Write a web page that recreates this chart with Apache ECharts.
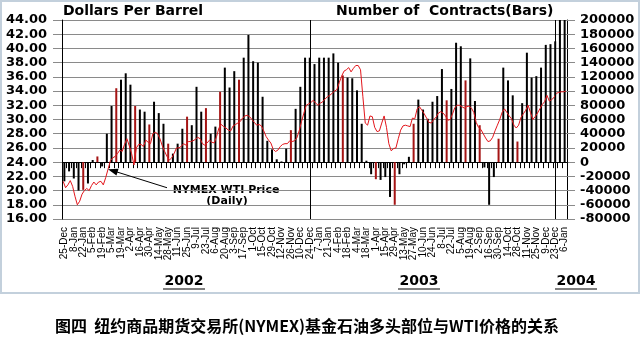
<!DOCTYPE html>
<html>
<head>
<meta charset="utf-8">
<script src="https://cdn.jsdelivr.net/npm/echarts@6/dist/echarts.min.js"></script>
<style>
  html, body { margin: 0; padding: 0; background: #ffffff; }
  #chart { width: 640px; height: 346px; }
</style>
</head>
<body>
<div id="chart"></div>
<script>
// Non-commercial (fund) net long positions in NYMEX crude oil, contracts,
// one value per weekly report, 25-Dec-2001 through 6-Jan-2004.
const netLong = [
  -27000, -13000, -23000, -40000, -39000, -30000, 3000, 8000, -6000, 40000,
  79000, 104000, 116000, 125000, 109000, 79000, 74000, 71000, 53000, 85000,
  69000, 54000, 26000, 12000, 26000, 47000, 64000, 52000, 106000, 71000,
  76000, 40000, 50000, 99000, 133000, 105000, 128000, 116000, 147000, 179000,
  142000, 140000, 92000, 30000, 18000, 4000, 1000, 19000, 45000, 75000,
  106000, 147000, 147000, 138000, 147000, 147000, 147000, 153000, 140000, 122000,
  119000, 118000, 101000, 54000, 2000, -17000, -24000, -25000, -21000, -49000,
  -60000, -17000, -3000, 7500, 54000, 88000, 74000, 61000, 85000, 93000,
  131000, 87000, 103000, 168000, 163000, 115000, 146000, 86000, 52000, -7500,
  -60000, -21000, 33000, 133000, 115000, 94000, 29000, 83000, 154000, 119000,
  121000, 133000, 165000, 166000, 170000, 200000, 200000
];

// NYMEX WTI price in dollars per barrel, two readings per week over the same span.
const wtiPrice = [
  21.3, 20.4, 20.8, 21.4, 20.6, 19.2, 18.0, 18.5, 19.5, 20.0,
  20.3, 20.0, 20.7, 21.2, 20.8, 21.2, 21.3, 20.8, 21.8, 23.0,
  24.2, 24.6, 24.8, 25.2, 25.7, 25.5, 26.5, 27.3, 26.3, 25.2,
  23.6, 26.0, 26.5, 26.5, 26.2, 27.1, 26.8, 26.6, 28.0, 28.2,
  28.0, 27.3, 26.3, 25.5, 24.8, 24.3, 24.6, 25.2, 26.0, 26.0,
  26.2, 26.6, 26.4, 26.9, 26.9, 27.0, 27.2, 27.5, 27.3, 26.6,
  26.4, 26.7, 27.1, 26.8, 26.7, 27.6, 28.8, 29.3, 29.0, 28.8,
  28.5, 28.4, 29.1, 29.3, 29.5, 29.7, 30.2, 30.5, 30.6, 30.4,
  30.0, 29.6, 29.2, 29.3, 29.1, 28.4, 27.6, 27.1, 26.7, 25.8,
  25.5, 25.7, 26.2, 26.5, 26.6, 26.6, 27.0, 26.9, 27.0, 27.4,
  28.4, 29.7, 30.9, 32.0, 32.2, 32.4, 32.7, 32.3, 32.0, 32.3,
  32.5, 32.9, 33.2, 33.4, 33.7, 34.0, 34.2, 35.2, 36.1, 36.8,
  37.0, 37.3, 36.7, 37.2, 37.6, 37.6, 37.0, 33.2, 29.5, 29.2,
  30.5, 30.4, 28.9, 28.3, 28.4, 29.5, 30.5, 28.9, 26.6, 25.6,
  25.9, 26.0, 27.3, 28.5, 29.1, 29.2, 29.1, 29.0, 30.2, 30.1,
  31.5, 31.8, 31.3, 30.8, 30.2, 29.6, 29.5, 30.0, 30.3, 30.9,
  31.1, 30.9, 30.5, 29.9, 30.0, 30.8, 31.7, 32.0, 32.0, 31.8,
  31.6, 31.8, 31.9, 31.6, 31.0, 29.6, 28.9, 28.6, 28.0, 27.4,
  26.9, 27.0, 27.5, 28.4, 29.2, 30.0, 31.0, 31.5, 31.0, 30.5,
  30.1, 29.2, 28.8, 29.2, 30.3, 30.8, 31.3, 32.0, 31.0, 30.0,
  30.4, 30.9, 31.5, 32.1, 32.5, 33.4, 32.6, 32.8, 33.1, 33.7,
  33.8, 33.9, 33.9, 34.0
];

// Weeks whose bars print in the darker red tone.
const tintedWeeks = [4, 7, 11, 15, 18, 22, 26, 30, 33, 37, 48, 59, 66, 70, 74, 81, 85, 88, 92, 96];

// Last report week of each calendar year, marked by a vertical rule.
const yearEndWeeks = [52, 104];

const yearLabels = ['2002', '2003', '2004'];

const MONTHS = ['Jan', 'Feb', 'Mar', 'Apr', 'May', 'Jun', 'Jul', 'Aug', 'Sep', 'Oct', 'Nov', 'Dec'];
const weekLabels = netLong.map((_, i) => {
  const d = new Date(Date.UTC(2001, 11, 25 + 7 * i));
  return d.getUTCDate() + '-' + MONTHS[d.getUTCMonth()];
});
const halfWeeks = wtiPrice.map((_, j) => String(j));

const FONT = '"DejaVu Sans", Arial, sans-serif';
const GRID_GRAY = '#8a8a8a';

const chart = echarts.init(document.getElementById('chart'), null, { renderer: 'canvas' });

chart.setOption({
  animation: false,
  backgroundColor: '#ffffff',
  grid: { left: 62, right: 73, top: 20, bottom: 127, containLabel: false },
  xAxis: [
    {
      type: 'category',
      data: weekLabels,
      boundaryGap: true,
      axisLine: { show: true, lineStyle: { color: '#000', width: 1 } },
      axisTick: { show: true, interval: 0, length: 6, lineStyle: { color: '#000' } },
      axisLabel: {
        // every category gets a label slot; only alternate weeks carry text
        interval: 0,
        formatter: (value, idx) => (idx % 2 === 0 ? value : ''),
        rotate: 90,
        margin: 8,
        hideOverlap: false,
        color: '#000',
        fontSize: 10,
        fontFamily: '"Liberation Sans", Arial, sans-serif'
      },
      splitLine: { show: false }
    },
    {
      type: 'category',
      data: halfWeeks,
      boundaryGap: true,
      show: false
    }
  ],
  yAxis: [
    {
      type: 'value',
      min: 16,
      max: 44,
      interval: 2,
      position: 'left',
      axisLine: { show: true, lineStyle: { color: '#000', width: 1 } },
      axisTick: { show: true, length: 9, lineStyle: { color: GRID_GRAY } },
      axisLabel: {
        margin: 15,
        color: '#000',
        fontSize: 13,
        fontWeight: 'bold',
        fontFamily: FONT,
        formatter: v => v.toFixed(2)
      },
      splitLine: { show: true, lineStyle: { color: GRID_GRAY, width: 1 } }
    },
    {
      type: 'value',
      min: -80000,
      max: 200000,
      interval: 20000,
      position: 'right',
      axisLine: { show: true, lineStyle: { color: '#000', width: 1 } },
      axisTick: { show: true, length: 8, lineStyle: { color: GRID_GRAY } },
      axisLabel: {
        margin: 13,
        color: '#000',
        fontSize: 13,
        fontWeight: 'bold',
        fontFamily: FONT,
        formatter: v => String(v)
      },
      splitLine: { show: false }
    }
  ],
  series: [
    {
      name: 'Number of Contracts',
      type: 'bar',
      xAxisIndex: 0,
      yAxisIndex: 1,
      barWidth: 2,
      itemStyle: { color: '#000' },
      data: netLong.map((v, i) =>
        tintedWeeks.includes(i) ? { value: v, itemStyle: { color: '#a51414' } } : v
      ),
      markLine: {
        silent: true,
        symbol: ['none', 'none'],
        label: { show: false },
        lineStyle: { color: '#000', width: 1, type: 'solid' },
        data: yearEndWeeks.map(w => ({ xAxis: w }))
      },
      z: 2
    },
    {
      name: 'NYMEX WTI Price (Daily)',
      type: 'line',
      xAxisIndex: 1,
      yAxisIndex: 0,
      data: wtiPrice,
      showSymbol: false,
      symbol: 'none',
      lineStyle: { color: '#e3161c', width: 1 },
      markLine: {
        silent: true,
        symbol: ['none', 'triangle'],
        symbolSize: [7, 10],
        label: { show: false },
        lineStyle: { color: '#000', width: 1, type: 'solid' },
        data: [[{ coord: [44, 20.4] }, { coord: [21, 22.8] }]]
      },
      z: 3
    }
  ],
  graphic: [
    {
      type: 'rect',
      shape: { x: 1, y: 1, width: 638, height: 292 },
      style: { fill: 'none', stroke: '#c3d0dc', lineWidth: 2 },
      silent: true
    },
    {
      type: 'text', left: 63, top: 4,
      style: { text: 'Dollars Per Barrel', font: 'bold 14px ' + FONT, fill: '#000' }
    },
    {
      type: 'text', left: 336, top: 4,
      style: { text: 'Number of  Contracts(Bars)', font: 'bold 14px ' + FONT, fill: '#000' }
    },
    {
      type: 'text', x: 226, y: 190,
      style: {
        text: 'NYMEX WTI Price', font: 'bold 11px ' + FONT, fill: '#000',
        align: 'center', verticalAlign: 'middle'
      }
    },
    {
      type: 'text', x: 227, y: 201,
      style: {
        text: '(Daily)', font: 'bold 11px ' + FONT, fill: '#000',
        align: 'center', verticalAlign: 'middle'
      }
    },
    ...yearLabels.map((yr, k) => {
      const cx = [184, 419, 576][k];
      return {
        type: 'group',
        children: [
          {
            type: 'text', x: cx, y: 281,
            style: {
              text: yr, font: 'bold 14px ' + FONT, fill: '#000',
              align: 'center', verticalAlign: 'middle'
            }
          },
          {
            type: 'line',
            shape: { x1: cx - 21, y1: 289, x2: cx + 21, y2: 289 },
            style: { stroke: '#000', lineWidth: 1.2 }
          }
        ]
      };
    }),
    {
      type: 'text', x: 307, y: 326,
      style: {
        text: '图四  纽约商品期货交易所(NYMEX)基金石油多头部位与WTI价格的关系',
        font: 'bold 16px "Noto Sans CJK SC", sans-serif',
        fill: '#000',
        align: 'center',
        verticalAlign: 'middle'
      }
    }
  ]
});
</script>
</body>
</html>
